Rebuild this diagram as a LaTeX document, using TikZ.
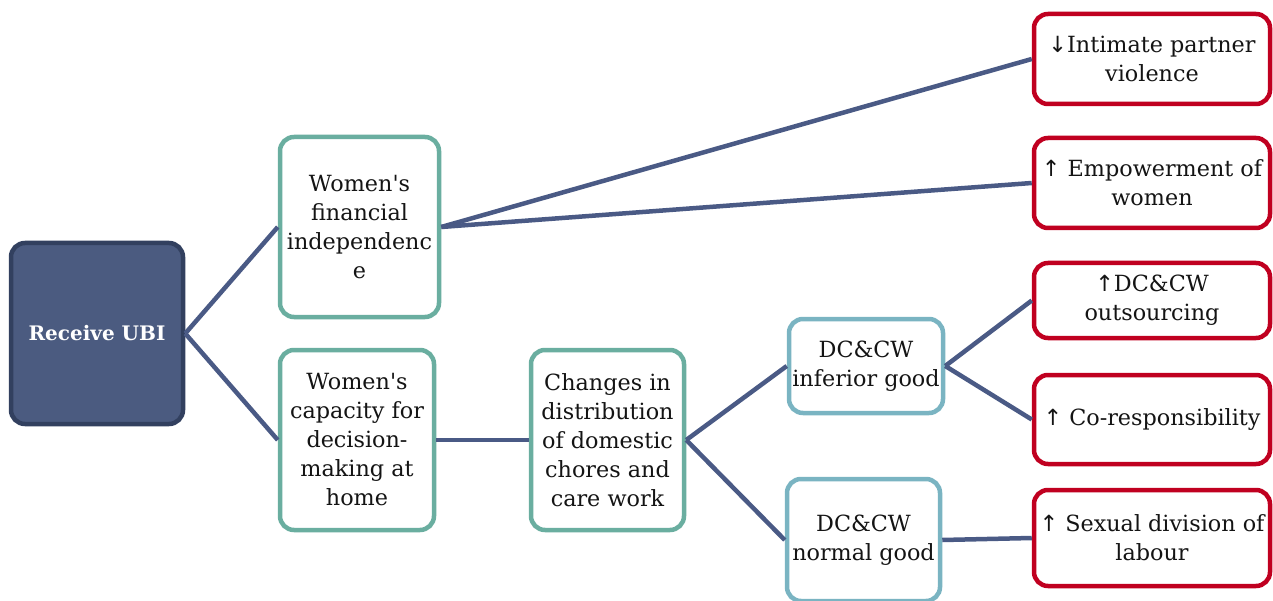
\documentclass[tikz,border=0pt]{standalone}
\usepackage{fontspec}
\setmainfont{DejaVu Serif}[Ligatures=TeXOff]
\newfontfamily\arrowfont{DejaVu Sans}
\newcommand{\upar}{{\arrowfont ↑}}
\newcommand{\dnar}{{\arrowfont ↓}}
\definecolor{ubifill}{RGB}{75,91,128}
\definecolor{ubiedge}{RGB}{50,64,95}
\definecolor{tealedge}{RGB}{106,174,160}
\definecolor{blueedge}{RGB}{122,180,194}
\definecolor{rededge}{RGB}{192,0,32}
\definecolor{linkcol}{RGB}{74,90,133}
\definecolor{txt}{RGB}{20,20,20}
\begin{document}
\begin{tikzpicture}[x=1pt,y=-1pt,
  box/.style={draw, line width=4.5pt, rounded corners=14pt, fill=white,
    align=center, inner sep=0pt, text=txt,
    font=\fontsize{22.3}{29}\selectfont},
  rootbox/.style={box, draw=ubiedge, fill=ubifill, text=white,
    font=\fontsize{20}{29}\selectfont\bfseries},
  midbox/.style={box, draw=tealedge},
  goodbox/.style={box, draw=blueedge},
  outbox/.style={box, draw=rededge, minimum width=236pt},
  link/.style={draw=linkcol, line width=4.5pt}
]
\useasboundingbox (0,0) rectangle (1273,601);

% nodes
\node[rootbox, minimum width=172pt, minimum height=181pt] (ubi) at (97,333.5) {Receive UBI};
\node[midbox, minimum width=159pt, minimum height=180pt] (fin) at (359.5,227) {Women's\\financial\\independenc\\e};
\node[midbox, minimum width=154pt, minimum height=180pt] (cap) at (357,440) {Women's\\capacity for\\decision-\\making at\\home};
\node[midbox, minimum width=153pt, minimum height=180pt] (chg) at (607.5,440) {Changes in\\distribution\\of domestic\\chores and\\care work};
\node[goodbox, minimum width=154pt, minimum height=94pt] (inf) at (866,366) {DC\&CW\\inferior good};
\node[goodbox, minimum width=153pt, minimum height=122pt] (nor) at (863.5,540) {DC\&CW\\normal good};

\node[outbox, minimum height=90pt] (ipv) at (1152,59) {\dnar Intimate partner\\violence};
\node[outbox, minimum height=90pt] (emp) at (1152,183) {\upar{} Empowerment of\\women};
\node[outbox, minimum height=75pt] (out) at (1152,300.5) {\upar DC\&CW\\outsourcing};
\node[outbox, minimum height=89pt] (cor) at (1152,419.5) {\upar{} Co-responsibility};
\node[outbox, minimum height=96pt] (sex) at (1152,538) {\upar{} Sexual division of\\labour};

% connectors
\draw[link] (ubi.east) -- (fin.west);
\draw[link] (ubi.east) -- (cap.west);
\draw[link] (fin.east) -- (ipv.west);
\draw[link] (fin.east) -- (emp.west);
\draw[link] (cap.east) -- (chg.west);
\draw[link] (chg.east) -- (inf.west);
\draw[link] (chg.east) -- (nor.west);
\draw[link] (inf.east) -- (out.west);
\draw[link] (inf.east) -- (cor.west);
\draw[link] (nor.east) -- (sex.west);
\end{tikzpicture}
\end{document}
